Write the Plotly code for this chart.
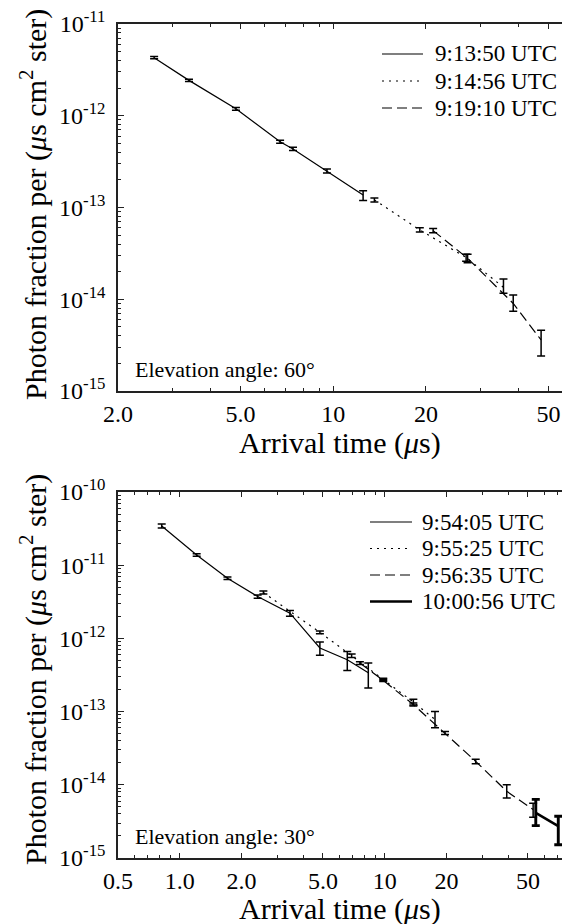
import plotly.graph_objects as go
import numpy as np

# ---------------- data: top panel (elevation 60 deg) ----------------
top_names = ["9:13:50 UTC", "9:14:56 UTC", "9:19:10 UTC"]
t1_x = [2.62, 3.40, 4.83, 6.72, 7.40, 9.54, 12.5]
t1_y = [4.3e-12, 2.43e-12, 1.19e-12, 5.2e-13, 4.35e-13, 2.5e-13, 1.37e-13]
t1_up = [0.12e-12, 0.07e-12, 0.04e-12, 0.2e-13, 0.18e-13, 0.12e-13, 0.15e-13]
t1_dn = [0.12e-12, 0.07e-12, 0.04e-12, 0.2e-13, 0.18e-13, 0.12e-13, 0.18e-13]

t2_x = [13.6, 19.1, 27.0, 35.7]
t2_y = [1.21e-13, 5.7e-14, 2.85e-14, 1.35e-14]
t2_up = [0.06e-13, 0.3e-14, 0.25e-14, 0.31e-14]
t2_dn = [0.06e-13, 0.3e-14, 0.25e-14, 0.19e-14]

t3_x = [21.1, 27.3, 38.4, 47.3]
t3_y = [5.6e-14, 2.8e-14, 9.0e-15, 3.6e-15]
t3_up = [0.3e-14, 0.3e-14, 2.1e-15, 1.0e-15]
t3_dn = [0.3e-14, 0.3e-14, 1.6e-15, 1.2e-15]

# ---------------- data: bottom panel (elevation 30 deg) ----------------
bot_names = ["9:54:05 UTC", "9:55:25 UTC", "9:56:35 UTC", "10:00:56 UTC"]
b1_x = [0.817, 1.21, 1.71, 2.40, 3.45, 4.83, 6.57, 8.32]
b1_y = [3.44e-11, 1.38e-11, 6.65e-12, 3.73e-12, 2.21e-12, 7.4e-13, 5.1e-13, 3.4e-13]
b1_up = [0.22e-11, 0.05e-11, 0.25e-12, 0.2e-12, 0.2e-12, 1.5e-13, 1.5e-13, 1.2e-13]
b1_dn = [0.22e-11, 0.05e-11, 0.25e-12, 0.2e-12, 0.2e-12, 1.5e-13, 1.45e-13, 1.3e-13]

b2_x = [2.56, 4.83, 6.9, 9.84, 13.8, 17.6]
b2_y = [4.23e-12, 1.21e-12, 5.8e-13, 2.75e-13, 1.35e-13, 7.8e-14]
b2_up = [0.2e-12, 0.05e-12, 0.3e-13, 0.1e-13, 0.12e-13, 2.2e-14]
b2_dn = [0.2e-12, 0.05e-12, 0.3e-13, 0.1e-13, 0.12e-13, 1.8e-14]

b3_x = [7.57, 9.84, 13.8, 19.7, 27.8, 39.4, 53.0]
b3_y = [4.6e-13, 2.67e-13, 1.25e-13, 5.1e-14, 2.09e-14, 8.15e-15, 4.6e-15]
b3_up = [0.2e-13, 0.1e-13, 0.06e-13, 0.25e-14, 0.15e-14, 1.85e-15, 1.0e-15]
b3_dn = [0.2e-13, 0.1e-13, 0.06e-13, 0.25e-14, 0.15e-14, 1.55e-15, 1.0e-15]

b4_x = [54.6, 70.3]
b4_y = [4.13e-15, 2.72e-15]
b4_up = [2.2e-15, 1.0e-15]
b4_dn = [1.36e-15, 1.2e-15]

# tick labels
top_xticks = [2, 5, 10, 20, 50]
top_xtext = ["2.0", "5.0", "10", "20", "50"]
bot_xticks = [0.5, 1, 2, 5, 10, 20, 50]
bot_xtext = ["0.5", "1.0", "2.0", "5.0", "10", "20", "50"]
top_yexp = [-15, -14, -13, -12, -11]
bot_yexp = [-15, -14, -13, -12, -11, -10]

FONT = "Liberation Serif"
W, H = 562, 924
DOT = "2px,5px"
DASH = "10px,5px"


def py(p):
    return 1 - p / H


def px(p):
    return p / W


def trace(x, y, up, dn, name, dash, width, xa, ya):
    return go.Scatter(
        x=x, y=y, name=name, mode="lines", showlegend=False,
        line=dict(color="black", width=width, dash=dash),
        error_y=dict(type="data", symmetric=False, array=up, arrayminus=dn,
                     color="black", thickness=width + 0.3, width=4),
        xaxis=xa, yaxis=ya,
    )


top_styles = [("solid", 1.2), (DOT, 1.2), (DASH, 1.2)]
bot_styles = [("solid", 1.2), (DOT, 1.2), (DASH, 1.2), ("solid", 2.6)]

fig = go.Figure()
top_data = [(t1_x, t1_y, t1_up, t1_dn), (t2_x, t2_y, t2_up, t2_dn), (t3_x, t3_y, t3_up, t3_dn)]
bot_data = [(b1_x, b1_y, b1_up, b1_dn), (b2_x, b2_y, b2_up, b2_dn),
            (b3_x, b3_y, b3_up, b3_dn), (b4_x, b4_y, b4_up, b4_dn)]
for (x, y, u, d), name, (ds, w) in zip(top_data, top_names, top_styles):
    fig.add_trace(trace(x, y, u, d, name, ds, w, "x", "y"))
for (x, y, u, d), name, (ds, w) in zip(bot_data, bot_names, bot_styles):
    fig.add_trace(trace(x, y, u, d, name, ds, w, "x2", "y2"))


def minor_vals(lo, hi):
    vals = []
    for e in range(lo, hi):
        for m in range(2, 10):
            vals.append(m * 10.0 ** e)
    return vals


def xaxis(domain, rng, ticks, text, anchor):
    minors = [v for v in minor_vals(-1, 2) if v not in ticks]
    return dict(
        type="log", domain=domain, range=[np.log10(rng[0]), np.log10(rng[1])],
        anchor=anchor, tickmode="array", tickvals=ticks, ticktext=text,
        ticks="inside", ticklen=5, tickwidth=1, tickcolor="#222",
        showline=True, linecolor="#222", linewidth=1.5, mirror="allticks",
        showgrid=False, zeroline=False, automargin=False,
        tickfont=dict(family=FONT, size=24, color="black"),
        minor=dict(tickmode="array", tickvals=minors, ticks="inside", ticklen=3,
                   tickcolor="#222", showgrid=False),
    )


def yaxis(domain, exps, anchor):
    vals = [10.0 ** e for e in exps]
    text = ["10<sup>%d</sup>" % e for e in exps]
    return dict(
        type="log", domain=domain, range=[exps[0], exps[-1]], anchor=anchor,
        tickmode="array", tickvals=vals, ticktext=text,
        ticks="inside", ticklen=6, tickwidth=1, tickcolor="#222",
        showline=True, linecolor="#222", linewidth=1.5, mirror=False,
        showgrid=False, zeroline=False, ticklabelstandoff=6, automargin=False,
        tickfont=dict(family=FONT, size=24, color="black"),
        minor=dict(tickmode="array", tickvals=minor_vals(exps[0], exps[-1]),
                   ticks="inside", ticklen=3, tickcolor="#222", showgrid=False),
    )


xd = [px(118), 1.0]
fig.update_layout(
    template="none",
    width=W, height=H, margin=dict(l=0, r=0, t=0, b=0, autoexpand=False),
    paper_bgcolor="white", plot_bgcolor="white",
    font=dict(family=FONT, color="black"),
    showlegend=False,
    xaxis=xaxis(xd, [2, 55.3], top_xticks, top_xtext, "y"),
    yaxis=yaxis([py(391), py(24)], top_yexp, "x"),
    xaxis2=xaxis(xd, [0.5, 73.3], bot_xticks, bot_xtext, "y2"),
    yaxis2=yaxis([py(858), py(492)], bot_yexp, "x2"),
)

# legends drawn as key lines + labels (paper coordinates)
def legend(names, styles, x0, x1, xt, rows):
    for name, (ds, w), yr in zip(names, styles, rows):
        fig.add_shape(type="line", xref="paper", yref="paper",
                      x0=px(x0), x1=px(x1), y0=py(yr), y1=py(yr),
                      line=dict(color="black", width=w, dash=ds))
        fig.add_annotation(xref="paper", yref="paper", showarrow=False,
                           x=px(xt), y=py(yr), xanchor="left", yanchor="middle",
                           text=name, font=dict(family=FONT, size=23, color="black"))


legend(top_names, top_styles, 382, 423, 433, [54, 81, 108])
legend(bot_names, bot_styles, 370, 412, 420, [522, 548.5, 575, 601.5])

ytitle = "Photon fraction per (<i>μ</i>s cm<sup>2</sup> ster)"
xtitle = "Arrival time (<i>μ</i>s)"
ann = [
    dict(text=ytitle, x=px(33), y=py(205), textangle=-90),
    dict(text=ytitle, x=px(33), y=py(670), textangle=-90),
    dict(text=xtitle, x=px(340), y=py(443)),
    dict(text=xtitle, x=px(340), y=py(909)),
]
for a in ann:
    fig.add_annotation(xref="paper", yref="paper", showarrow=False,
                       xanchor="center", yanchor="middle",
                       font=dict(family=FONT, size=30, color="black"), **a)
fig.add_annotation(xref="paper", yref="paper", showarrow=False, x=px(133), y=py(369),
                   xanchor="left", yanchor="middle", text="Elevation angle: 60°",
                   font=dict(family=FONT, size=22, color="black"))
fig.add_annotation(xref="paper", yref="paper", showarrow=False, x=px(133), y=py(836),
                   xanchor="left", yanchor="middle", text="Elevation angle: 30°",
                   font=dict(family=FONT, size=22, color="black"))

fig.write_html(
    "out.html",
    config={"displayModeBar": False},
    post_script="document.body.style.margin='0';document.body.style.overflow='hidden';",
)
